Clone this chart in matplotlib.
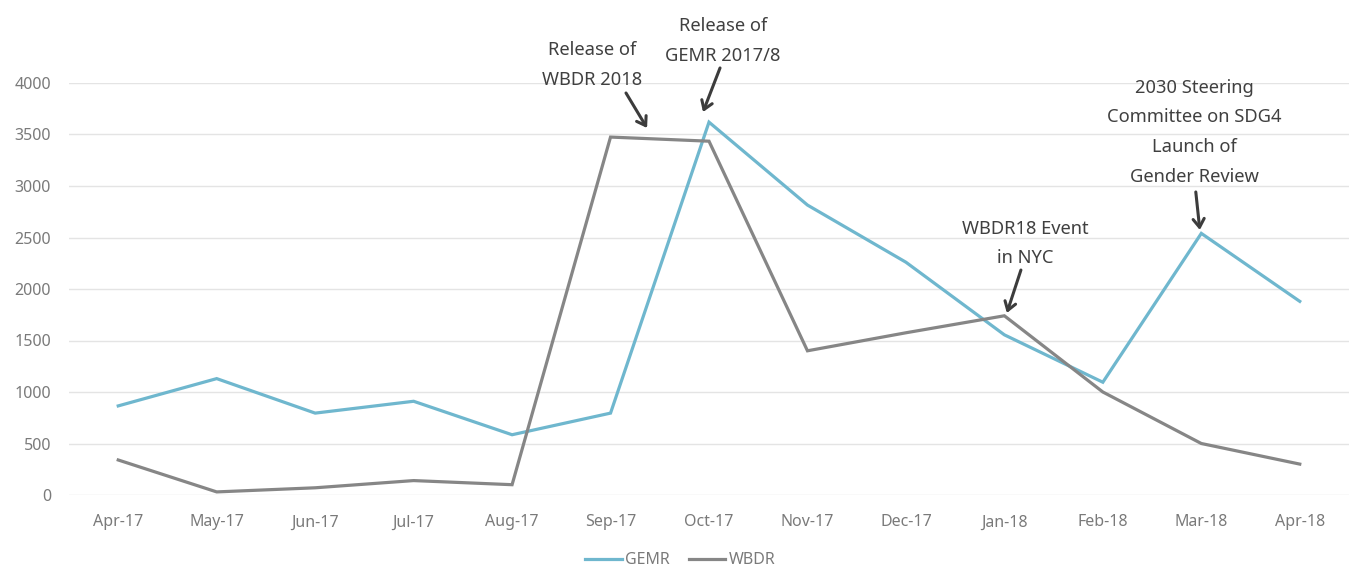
import matplotlib
matplotlib.use("Agg")
import matplotlib.pyplot as plt

months = ["Apr-17", "May-17", "Jun-17", "Jul-17", "Aug-17", "Sep-17", "Oct-17",
          "Nov-17", "Dec-17", "Jan-18", "Feb-18", "Mar-18", "Apr-18"]
gemr = [865, 1130, 795, 910, 585, 795, 3620, 2815, 2260, 1555, 1095, 2540, 1880]
wbdr = [340, 30, 70, 140, 100, 3475, 3435, 1400, 1575, 1740, 1000, 500, 300]
yticks = [0, 500, 1000, 1500, 2000, 2500, 3000, 3500, 4000]

plt.rcParams['font.family'] = ['Noto Sans', 'DejaVu Sans']

fig = plt.figure(figsize=(13.52, 5.70), dpi=100)
ax = fig.add_axes([69/1352, 1-495/570, 1280/1352, 412/570])

x = list(range(len(months)))
ax.plot(x, gemr, color='#6FB7CE', lw=2.3, label='GEMR', solid_joinstyle='miter')
ax.plot(x, wbdr, color='#868686', lw=2.3, label='WBDR', solid_joinstyle='miter')

ax.set_xlim(-0.5, len(months) - 0.5)
ax.set_ylim(0, 4000)
ax.set_yticks(yticks)
ax.set_xticks(x)
ax.set_xticklabels(months)
ax.tick_params(axis='both', length=0, labelsize=11.5, colors='#7a7a7a')
ax.tick_params(axis='y', pad=13)
ax.tick_params(axis='x', pad=14)
ax.yaxis.grid(True, color='#e4e4e4', lw=1)
ax.set_axisbelow(True)
for s in ax.spines.values():
    s.set_visible(False)

txt_kw = dict(ha='center', va='center', fontsize=13.2, color='#404040',
              linespacing=1.85, clip_on=False)
arr_kw = dict(arrowstyle='->,head_length=0.6,head_width=0.4', color='#3c3c3c', lw=2.2,
              shrinkA=0, shrinkB=0)

ax.text(4.81, 4175, "Release of\nWBDR 2018", **txt_kw)
ax.annotate('', xy=(5.371, 3563), xytext=(5.157, 3903), arrowprops=arr_kw, annotation_clip=False)

ax.text(6.142, 4408, "Release of\nGEMR 2017/8", **txt_kw)
ax.annotate('', xy=(5.939, 3718), xytext=(6.112, 4146), arrowprops=arr_kw, annotation_clip=False)

ax.text(9.21, 2442, "WBDR18 Event\nin NYC", **txt_kw)
ax.annotate('', xy=(9.025, 1767), xytext=(9.168, 2184), arrowprops=arr_kw, annotation_clip=False)

ax.text(10.93, 3520, "2030 Steering\nCommittee on SDG4\nLaunch of\nGender Review", **txt_kw)
ax.annotate('', xy=(10.985, 2573), xytext=(10.944, 2942), arrowprops=arr_kw, annotation_clip=False)

leg = fig.legend(loc='lower center', bbox_to_anchor=(0.503, -0.022), ncol=2, frameon=False,
                 fontsize=11.5, handlelength=2.3, handletextpad=0.2, columnspacing=1.2)
for t in leg.get_texts():
    t.set_color('#7a7a7a')

fig.savefig('out.png', dpi=100, facecolor='white')
